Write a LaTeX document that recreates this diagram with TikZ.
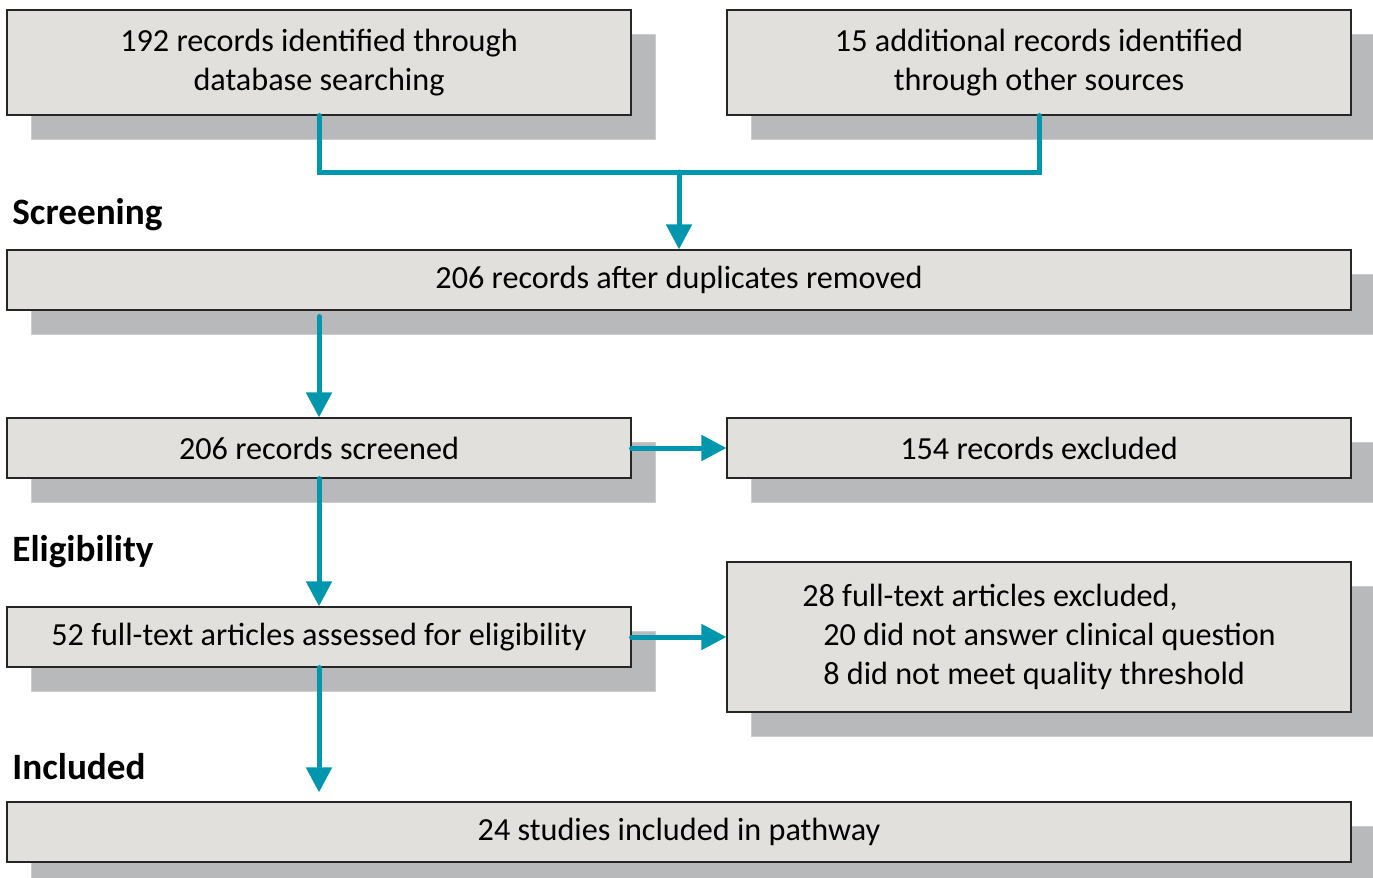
\documentclass[tikz,border=0pt]{standalone}
\usepackage{fontspec}
\setmainfont{Carlito}
\usetikzlibrary{arrows.meta,shadows}
\definecolor{boxfill}{HTML}{E1E0DC}
\definecolor{shade}{HTML}{B8B9BB}
\definecolor{flowteal}{HTML}{0096AE}

\begin{document}
\begin{tikzpicture}[x=0.5pt,y=-0.5pt,
  box/.style={draw=black!85,line width=0.6pt,fill=boxfill,
    general shadow={fill=shade,draw=black!20,line width=0.4pt,shadow xshift=12pt,shadow yshift=-12pt},
    minimum height=30pt,inner sep=0pt,align=center,
    font=\fontsize{16.1}{19.5}\selectfont},
  narrow/.style={box,minimum width=312pt},
  wide/.style={box,minimum width=672pt},
  stage/.style={anchor=west,inner sep=0pt,font=\fontsize{18.6}{20}\selectfont\bfseries},
  flow/.style={draw=flowteal,line width=2.5pt,line cap=round},
  flowarrow/.style={flow,-{Triangle[length=12.5pt,width=12.5pt]}},
]
\useasboundingbox (0,0) rectangle (1373,878);
\node[narrow,minimum height=52.5pt] (ids) at (319,62.5) {192 records identified through\\database searching};
\node[narrow,minimum height=52.5pt] (oth) at (1039,62.5) {15 additional records identified\\through other sources};
\node[stage] (scr) at (12,215) {Screening};
\node[wide] (dup) at (679,280) {206 records after duplicates removed};
\node[narrow] (scn) at (319,448) {206 records screened};
\node[narrow] (exc) at (1039,448) {154 records excluded};
\node[stage] (elg) at (12,552) {Eligibility};
\node[narrow] (ful) at (319,637) {52 full-text articles assessed for eligibility};
\node[narrow,minimum height=75pt,align=left] (fex) at (1039,637)
  {28 full-text articles excluded,\\\hspace*{10.5pt}20 did not answer clinical question\hspace*{2pt}\\\hspace*{10.5pt}8 did not meet quality threshold};
\node[stage] (inc) at (12,767) {Included};
\node[wide] (stu) at (679,832) {24 studies included in pathway};
% links
\coordinate (join) at (679,172);
\draw[flow] (ids.south) |- (join) -| (oth.south);
\draw[flowarrow] (join) -- (dup.north);
\draw[flowarrow,shorten <=3pt] (dup.south -| scn.north) -- (scn.north);
\draw[flowarrow] (scn.east) -- (exc.west);
\draw[flowarrow] (scn.south) -- (ful.north);
\draw[flowarrow] (ful.east) -- (fex.west);
\draw[flowarrow,shorten >=4.5pt] (ful.south) -- (stu.north -| ful.south);
\end{tikzpicture}
\end{document}
